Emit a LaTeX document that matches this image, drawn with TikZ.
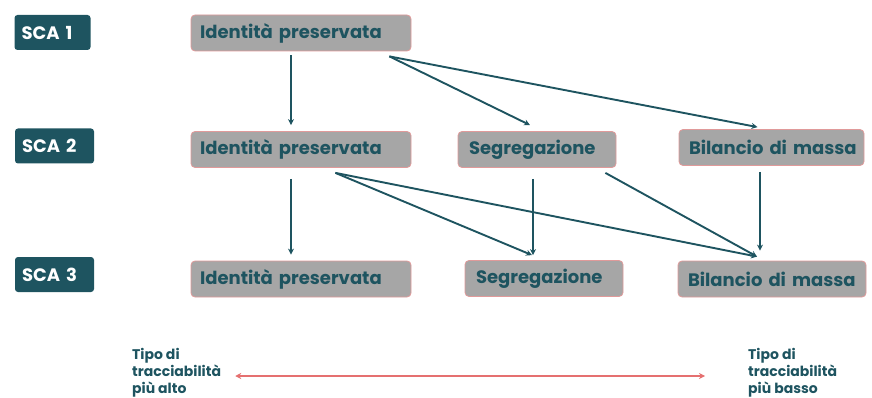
\documentclass[tikz,border=0pt]{standalone}
\usepackage{fontspec}
\setmainfont{Poppins}
\usetikzlibrary{arrows.meta}
\definecolor{teal}{HTML}{1E5460}
\definecolor{boxgray}{HTML}{A6A6A6}
\definecolor{boxline}{HTML}{E09A9A}
\definecolor{redarrow}{HTML}{E57070}
\tikzset{
  scabox/.style={draw=none, fill=teal, rounded corners=3pt, text=white, font=\bfseries\fontsize{18}{20}\selectfont, minimum height=35pt, inner sep=0pt, align=left},
  graybox/.style={draw=boxline, line width=0.8pt, fill=boxgray, rounded corners=4pt, text=teal, font=\bfseries\fontsize{18}{20}\selectfont, minimum height=36pt, inner sep=0pt, align=left},
  conn/.style={draw=teal, line width=1.9pt, -{Stealth[length=6pt,width=6pt]}},
  lowtext/.style={text=teal, font=\bfseries\fontsize{14}{17}\selectfont, align=left, inner sep=0pt, anchor=west},
}
\begin{document}
\begin{tikzpicture}[x=1pt,y=-1pt]
\useasboundingbox (0,0) rectangle (872,398);
\clip (0,0) rectangle (872,398);
% level labels
\node[scabox, minimum width=76pt, text width=62pt] (sca1) at (52.5,32.5) {SCA 1};
\node[scabox, minimum width=79pt, text width=65pt] (sca2) at (54.5,146) {SCA 2};
\node[scabox, minimum width=79pt, text width=65pt] (sca3) at (54.5,274.5) {SCA 3};
% boxes
\node[graybox, minimum width=220pt, text width=202pt] (ip1) at (301,33) {\mbox{Identità preservata}};
\node[graybox, minimum width=220pt, text width=202pt] (ip2) at (301,149.5) {\mbox{Identità preservata}};
\node[graybox, minimum width=220pt, text width=202pt] (ip3) at (301,279) {\mbox{Identità preservata}};
\node[graybox, minimum width=158pt, text width=136pt] (seg2) at (537,149.5) {\mbox{Segregazione}};
\node[graybox, minimum width=185pt, text width=179pt] (bil2) at (771.5,147.5) {\mbox{\hspace*{7pt}Bilancio di massa}};
\node[graybox, minimum width=158pt, text width=136pt] (seg3) at (544,278.5) {\mbox{Segregazione}};
\node[graybox, minimum width=188pt, text width=182pt] (bil3) at (772,279) {\mbox{\hspace*{7pt}Bilancio di massa}};
% connectors
\draw[conn] ([xshift=-10pt,yshift=-4pt]ip1.south) -- ([xshift=-10pt,yshift=6pt]ip2.north);
\draw[conn] ([xshift=-22pt,yshift=-5pt]ip1.south east) -- ([xshift=-7pt,yshift=6pt]seg2.north);
\draw[conn] ([xshift=-22pt,yshift=-5pt]ip1.south east) -- ([xshift=-14pt,yshift=2pt]bil2.north);
\draw[conn] ([xshift=-10pt,yshift=-11pt]ip2.south) -- ([xshift=-10pt,yshift=6pt]ip3.north);
\draw[conn] ([xshift=-76pt,yshift=-5pt]ip2.south east) -- ([xshift=-12pt,yshift=5pt]seg3.north);
\draw[conn] ([xshift=-76pt,yshift=-5pt]ip2.south east) -- ([xshift=-15pt,yshift=4pt]bil3.north);
\draw[conn] ([xshift=-4pt,yshift=-11pt]seg2.south) -- ([xshift=-11pt,yshift=5pt]seg3.north);
\draw[conn] ([xshift=-11pt,yshift=-5pt]seg2.south east) -- ([xshift=-15pt,yshift=4pt]bil3.north);
\draw[conn] ([xshift=-11.5pt,yshift=-6pt]bil2.south) -- ([xshift=-12pt,yshift=10pt]bil3.north);
% bottom legend
\node[lowtext] (lt) at (132,373) {Tipo di\\tracciabilità\\più alto};
\node[lowtext] (rt) at (748,373) {Tipo di\\tracciabilità\\più basso};
\draw[draw=redarrow, line width=1.7pt, {Stealth[length=6pt,width=6pt]}-{Stealth[length=6pt,width=6pt]}] ([xshift=14pt,yshift=-3pt]lt.east) -- ([xshift=-43pt,yshift=-3pt]rt.west);
\end{tikzpicture}
\end{document}
